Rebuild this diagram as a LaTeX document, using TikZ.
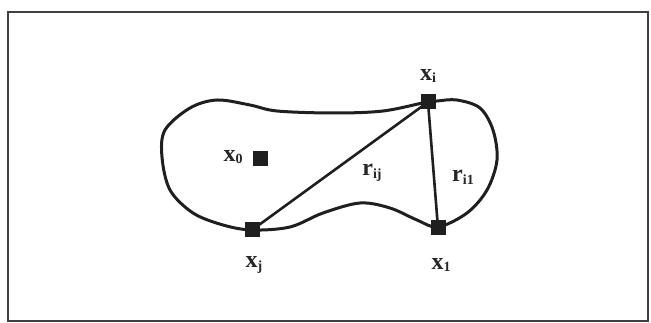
\documentclass[tikz,border=0pt]{standalone}
\usepackage{fontspec}
\setmainfont{Liberation Serif}
\newcommand{\lab}[2]{{\fontsize{24}{26}\selectfont\bfseries #1}\raisebox{-0.28em}{\fontsize{14}{14}\selectfont\bfseries #2}}
\begin{document}
\begin{tikzpicture}[x=1pt,y=-1pt,
  pt/.style={fill=black!88,minimum size=15pt,inner sep=0pt,draw=none},
  lbl/.style={inner sep=0pt,text=black!85},
  blob/.style={line width=3pt,black!88,line join=round},
  seg/.style={line width=2.6pt,black!88}]
\useasboundingbox (0,0) rectangle (651,323);
\draw[line width=2.4pt,black!75] (8,12) rectangle (648,321);
% outline
\draw[blob] plot[smooth cycle,tension=0.55] coordinates {
 (427,102) (383,111) (333,113) (277,111) (250,105) (217,100) (190,108)
 (165,130) (162,157) (170,190) (193,213) (223,225) (252,230)
 (290,227) (323,213) (360,203) (390,208) (417,220) (438,227)
 (467,213) (487,190) (497,160) (493,130) (480,108) (457,100) (437,101)};
\node[pt] (xi) at (428,102) {};
\node[pt] (x1) at (438,228) {};
\node[pt] (xj) at (252,230) {};
\node[pt] (x0) at (260,159) {};
\draw[seg] (xi.center) -- (xj.center);
\draw[seg] (xi.center) -- (x1.center);
\node[lbl] (lxi) at (428,76) {\lab{x}{i}};
\node[lbl] (lx0) at (233,157) {\lab{x}{0}};
\node[lbl] (lrij) at (372,173) {\lab{r}{ij}};
\node[lbl] (lri1) at (463,177) {\lab{r}{i1}};
\node[lbl] (lxj) at (254,265) {\lab{x}{j}};
\node[lbl] (lx1) at (441,265) {\lab{x}{1}};
\end{tikzpicture}
\end{document}
